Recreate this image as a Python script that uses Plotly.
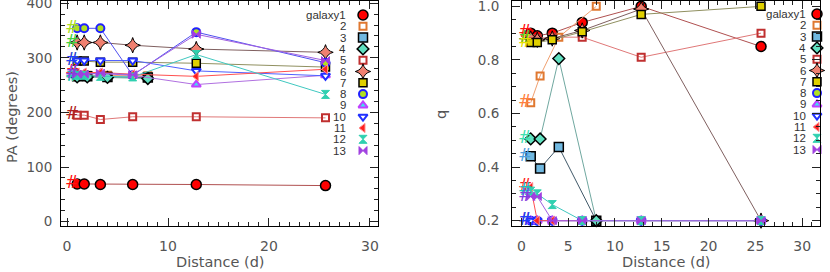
import plotly.graph_objects as go

# ---------------- data ----------------
names = ["galaxy1", "2", "3", "4", "5", "6", "7", "8", "9", "10", "11", "12", "13"]

dist_a = [1.0, 1.7, 3.3, 6.5, 12.8, 25.6]   # galaxies 1,5-13
dist_b = [1.0, 2.0, 4.0, 8.0]               # galaxies 2,3,4

pa_g1 = [69, 69, 68, 68, 68, 66]
pa_g2 = [268, 268, 268, 267]
pa_g3 = [266, 266, 265, 264]
pa_g4 = [265, 265, 264, 262]
pa_g5 = [195, 195, 187, 192, 192, 190]
pa_g6 = [328, 328, 328, 323, 316, 310]
pa_g7 = [294, 294, 292, 292, 290, 283]
pa_g8 = [354, 354, 354, 268, 347, 291]
pa_g9 = [270, 270, 271, 268, 251, 268]
pa_g10 = [295, 295, 295, 295, 276, 267]
pa_g11 = [273, 273, 273, 270, 266, 279]
pa_g12 = [268, 268, 266, 265, 306, 233]
pa_g13 = [270, 270, 272, 269, 343, 295]

q_g1 = [0.90, 0.89, 0.90, 0.94, 1.00, 0.85]
q_g2 = [0.64, 0.74, 0.885, 1.00]
q_g3 = [0.44, 0.395, 0.475, 0.20]
q_g4 = [0.505, 0.505, 0.805, 0.20]
q_g5 = [0.88, 0.88, 0.885, 0.885, 0.81, 0.90]
q_g6 = [0.88, 0.875, 0.88, 0.91, 0.99, 0.20]
q_g7 = [0.865, 0.865, 0.875, 0.905, 0.97, 1.00]
q_g8 = [0.20, 0.20, 0.20, 0.20, 0.20, 0.20]
q_g9 = [0.20, 0.20, 0.20, 0.20, 0.20, 0.20]
q_g10 = [0.20, 0.20, 0.20, 0.20, 0.20, 0.20]
q_g11 = [0.325, 0.20, 0.20, 0.20, 0.20, 0.20]
q_g12 = [0.31, 0.30, 0.26, 0.20, 0.20, 0.20]
q_g13 = [0.29, 0.29, 0.20, 0.20, 0.20, 0.20]

x_ticks_left = [0, 10, 20, 30]
x_ticks_right = [0, 5, 10, 15, 20, 25, 30]
pa_ticks = [0, 100, 200, 300, 400]
q_ticks = [0.2, 0.4, 0.6, 0.8, 1.0]

# ---------------- styles ----------------
dists = [dist_a, dist_b, dist_b, dist_b] + [dist_a] * 9
pas = [pa_g1, pa_g2, pa_g3, pa_g4, pa_g5, pa_g6, pa_g7, pa_g8, pa_g9, pa_g10, pa_g11, pa_g12, pa_g13]
qs = [q_g1, q_g2, q_g3, q_g4, q_g5, q_g6, q_g7, q_g8, q_g9, q_g10, q_g11, q_g12, q_g13]

line_cols = ["#B05050", "#F0A070", "#405868", "#70A8A0", "#E07878", "#806060", "#909060",
             "#5050F0", "#B070E0", "#5060FF", "#FF5050", "#40C8C0", "#A060E0"]
hash_cols = ["#FF1010", "#FF8040", "#50A0E0", "#40E0B0", "#B02020", "#40D040", "#E8E000",
             "#A8E020", "#C040C0", "#2040FF", "#FF2020", "#20C0C0", "#8040E0"]
markers = [
    dict(symbol="circle", size=10, color="#FF0000", line=dict(color="black", width=1.5)),
    dict(symbol="square-open", size=7, color="#E07830", line=dict(color="#E07830", width=2)),
    dict(symbol="square", size=9, color="#70B8E0", line=dict(color="black", width=1.5)),
    dict(symbol="diamond", size=9, color="#60E0C0", line=dict(color="black", width=1.5)),
    dict(symbol="square-open", size=7, color="#C03030", line=dict(color="#C03030", width=2)),
    dict(symbol="star-diamond", size=11, color="#F08070", line=dict(color="black", width=1)),
    dict(symbol="square", size=8, color="#E0D000", line=dict(color="black", width=1.5)),
    dict(symbol="circle", size=8, color="#B0E020", line=dict(color="#2020FF", width=2)),
    dict(symbol="triangle-up", size=8, color="#40E0F0", line=dict(color="#C040FF", width=2)),
    dict(symbol="triangle-down", size=8, color="white", line=dict(color="#2030FF", width=2)),
    dict(symbol="triangle-left", size=8, color="#FF2020", line=dict(color="#FF9090", width=1)),
    dict(symbol="hourglass", size=8, color="#30D0B0", line=dict(color="#30D0B0", width=1)),
    dict(symbol="bowtie", size=8, color="#A040E0", line=dict(color="#A040E0", width=1)),
]

W, H = 830, 272
L_DOM = (61, 378)    # px
R_DOM = (512, 820)
Y_DOM = (1, 226)     # px from top
LX_RANGE = [-0.6, 30.8]
LY_RANGE = [-8, 404]
RX_RANGE = [-1.0, 31.9]
RY_RANGE = [0.18, 1.02]

def px2x(px, dom, rng):
    return rng[0] + (px - dom[0]) / (dom[1] - dom[0]) * (rng[1] - rng[0])

def py2y(py, rng):
    return rng[0] + (Y_DOM[1] - py) / (Y_DOM[1] - Y_DOM[0]) * (rng[1] - rng[0])

fig = go.Figure()

HASH_X_PX = (72, 525)
for i in range(13):
    for xa, ya, yvals in (("x", "y", pas[i]), ("x2", "y2", qs[i])):
        fig.add_trace(go.Scatter(
            x=dists[i], y=yvals, xaxis=xa, yaxis=ya, mode="lines+markers",
            line=dict(color=line_cols[i], width=1), marker=markers[i],
            showlegend=False, cliponaxis=False, hoverinfo="skip"))
    # '#' marks at start of each series
    fig.add_trace(go.Scatter(
        x=[px2x(HASH_X_PX[0], L_DOM, LX_RANGE)], y=[pas[i][0]], xaxis="x", yaxis="y",
        mode="text", text=["<i>#</i>"], textposition="middle center",
        textfont=dict(family="DejaVu Sans", size=17, color=hash_cols[i]),
        showlegend=False, hoverinfo="skip", cliponaxis=False))
    fig.add_trace(go.Scatter(
        x=[px2x(HASH_X_PX[1], R_DOM, RX_RANGE)], y=[qs[i][0]], xaxis="x2", yaxis="y2",
        mode="text", text=["<i>#</i>"], textposition="middle center",
        textfont=dict(family="DejaVu Sans", size=17, color=hash_cols[i]),
        showlegend=False, hoverinfo="skip", cliponaxis=False))

# custom legends (text then symbol)
annotations = []
for panel, (dom, xr, yr, xa, ya, txt_px, mk_px, top_py) in enumerate((
        (L_DOM, LX_RANGE, LY_RANGE, "x", "y", 348, 363, 15),
        (R_DOM, RX_RANGE, RY_RANGE, "x2", "y2", 808, 817, 14))):
    for i in range(13):
        py = top_py + 11.3 * i
        fig.add_trace(go.Scatter(
            x=[px2x(mk_px, dom, xr)], y=[py2y(py, yr)], xaxis=xa, yaxis=ya,
            mode="markers", marker=markers[i], showlegend=False,
            hoverinfo="skip", cliponaxis=False))
        annotations.append(dict(
            x=txt_px / W, y=1 - py / H, xref="paper", yref="paper",
            text=names[i], showarrow=False, xanchor="right", yanchor="middle",
            font=dict(family="Liberation Sans", size=11.5, color="#333333")))

title_font = dict(family="DejaVu Sans", size=14.5, color="#555555")
annotations += [
    dict(x=12 / W, y=1 - 117 / H, xref="paper", yref="paper", text="PA (degrees)",
         textangle=-90, showarrow=False, xanchor="center", yanchor="middle", font=title_font),
    dict(x=220 / W, y=1 - 262 / H, xref="paper", yref="paper", text="Distance (d)",
         showarrow=False, xanchor="center", yanchor="middle", font=title_font),
    dict(x=666 / W, y=1 - 262 / H, xref="paper", yref="paper", text="Distance (d)",
         showarrow=False, xanchor="center", yanchor="middle", font=title_font),
    dict(x=441 / W, y=1 - 115 / H, xref="paper", yref="paper", text="q",
         textangle=-90, showarrow=False, xanchor="center", yanchor="middle", font=title_font),
]

def axis(dom_px, rng, tickvals, minor_dtick, is_y, fmt=None, standoff=6, fsize=14):
    d = dict(
        domain=[1 - dom_px[1] / H, 1 - dom_px[0] / H] if is_y else [dom_px[0] / W, dom_px[1] / W],
        range=rng, showgrid=False, zeroline=False, showline=True, linecolor="black",
        linewidth=1, mirror="ticks", ticks="inside", ticklen=8, tickwidth=1,
        tickcolor="#222222", tickvals=tickvals,
        tickfont=dict(family="DejaVu Sans", size=fsize, color="#555555"),
        minor=dict(ticks="inside", ticklen=4, dtick=minor_dtick, tickcolor="#222222",
                   showgrid=False),
        ticklabelstandoff=standoff, ticklabeloverflow="allow",
        automargin=False, fixedrange=True)
    if fmt:
        d["tickformat"] = fmt
    return d

fig.update_layout(
    width=W, height=H, margin=dict(l=0, r=0, t=0, b=0),
    paper_bgcolor="white", plot_bgcolor="white", showlegend=False,
    xaxis=dict(axis(L_DOM, LX_RANGE, x_ticks_left, 1, False, standoff=7), anchor="y"),
    yaxis=dict(axis(Y_DOM, LY_RANGE, pa_ticks, 20, True, standoff=5, fsize=13.5), anchor="x"),
    xaxis2=dict(axis(R_DOM, RX_RANGE, x_ticks_right, 1, False, standoff=7), anchor="y2"),
    yaxis2=dict(axis(Y_DOM, RY_RANGE, q_ticks, 0.05, True, fmt=".1f", standoff=9, fsize=13.5),
                anchor="x2"),
    annotations=annotations,
)

fig.write_html("out.html", config={"displayModeBar": False},
               post_script="document.body.style.margin='0';document.body.style.overflow='hidden';")
